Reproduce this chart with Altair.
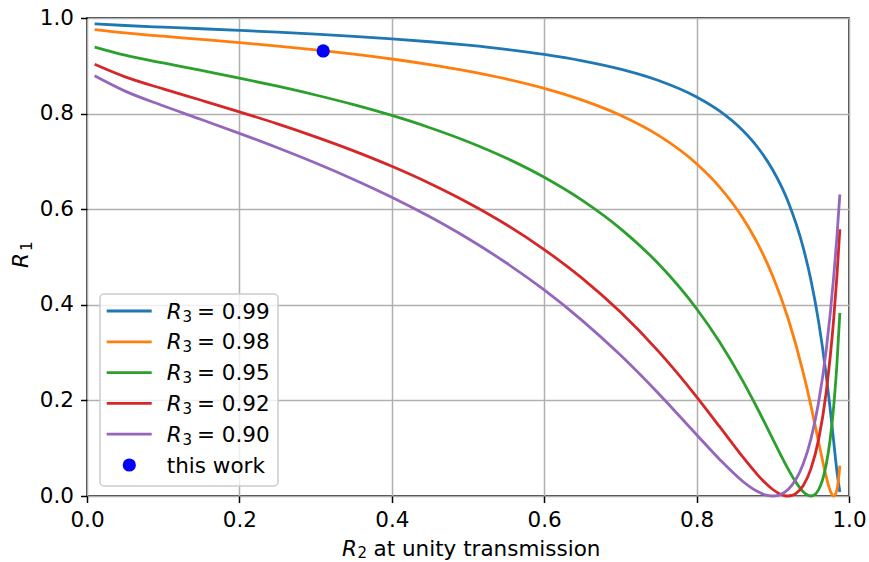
import altair as alt
import pandas as pd

# ---------------- data ----------------
R3_LABELS = ["0.99", "0.98", "0.95", "0.92", "0.90"]
COLORS = ["#1f77b4", "#ff7f0e", "#2ca02c", "#d62728", "#9467bd"]
TICKS = [0.0, 0.2, 0.4, 0.6, 0.8, 1.0]

base_x = [0.01, 0.05, 0.1, 0.15, 0.2, 0.25, 0.3, 0.35, 0.4, 0.45, 0.5,
          0.55, 0.6, 0.65, 0.7, 0.75, 0.8]

r2_099 = base_x + [0.83, 0.86, 0.88, 0.9, 0.92, 0.94, 0.95, 0.96, 0.97,
                   0.975, 0.98, 0.984, 0.988]
r1_099 = [0.9878, 0.9843, 0.9808, 0.9775, 0.9740, 0.9703, 0.9662, 0.9616,
          0.9563, 0.9503, 0.9431, 0.9345, 0.9239, 0.9105, 0.8931, 0.8693,
          0.8349, 0.8056, 0.7656, 0.7296, 0.6819, 0.6160, 0.5191, 0.4520,
          0.3658, 0.2538, 0.1863, 0.1126, 0.0539, 0.0084]

r2_098 = base_x + [0.83, 0.86, 0.88, 0.9, 0.92, 0.94, 0.95, 0.96, 0.965,
                   0.97, 0.974, 0.977, 0.98, 0.983, 0.986, 0.988]
r1_098 = [0.9756, 0.9687, 0.9619, 0.9553, 0.9485, 0.9412, 0.9332, 0.9243,
          0.9142, 0.9025, 0.8889, 0.8726, 0.8529, 0.8282, 0.7966, 0.7544,
          0.6952, 0.6468, 0.5831, 0.5285, 0.4599, 0.3719, 0.2577, 0.1891,
          0.1141, 0.0763, 0.0410, 0.0174, 0.0050, 0.0, 0.0067, 0.0317,
          0.0635]

r2_095 = base_x + [0.83, 0.86, 0.88, 0.9, 0.91, 0.92, 0.93, 0.94, 0.945,
                   0.95, 0.955, 0.96, 0.965, 0.97, 0.975, 0.98, 0.984, 0.988]
r1_095 = [0.9392, 0.9223, 0.9060, 0.8903, 0.8743, 0.8573, 0.8389, 0.8187,
          0.7961, 0.7705, 0.7412, 0.7071, 0.6668, 0.6185, 0.5595, 0.4857,
          0.3917, 0.3227, 0.2423, 0.1825, 0.1191, 0.0872, 0.0567, 0.0295,
          0.0087, 0.0024, 0.0, 0.0029, 0.0129, 0.0325, 0.0649, 0.1150,
          0.1891, 0.2720, 0.3831]

r2_092 = base_x + [0.83, 0.86, 0.88, 0.89, 0.9, 0.91, 0.915, 0.92, 0.925,
                   0.93, 0.94, 0.95, 0.96, 0.97, 0.98, 0.984, 0.988]
r1_092 = [0.9031, 0.8768, 0.8517, 0.8279, 0.8037, 0.7785, 0.7514, 0.7221,
          0.6898, 0.6539, 0.6136, 0.5680, 0.5156, 0.4552, 0.3847, 0.3025,
          0.2076, 0.1455, 0.0828, 0.0443, 0.0275, 0.0136, 0.0038, 0.0010,
          0.0, 0.0011, 0.0048, 0.0219, 0.0567, 0.1174, 0.2161, 0.3720,
          0.4567, 0.5580]

r2_090 = base_x + [0.83, 0.86, 0.87, 0.88, 0.89, 0.895, 0.9, 0.905, 0.91,
                   0.92, 0.93, 0.94, 0.95, 0.96, 0.97, 0.98, 0.984, 0.988]
r1_090 = [0.8792, 0.8470, 0.8163, 0.7876, 0.7587, 0.7286, 0.6967, 0.6623,
          0.6250, 0.5840, 0.5386, 0.4879, 0.4311, 0.3670, 0.2949, 0.2146,
          0.1283, 0.0769, 0.0314, 0.0192, 0.0093, 0.0025, 0.0007, 0.0,
          0.0007, 0.0031, 0.0136, 0.0339, 0.0676, 0.1191, 0.1949, 0.3041,
          0.4599, 0.5394, 0.6310]

this_work_r2 = [0.31]
this_work_r1 = [0.931]

SERIES = [(r2_099, r1_099), (r2_098, r1_098), (r2_095, r1_095),
          (r2_092, r1_092), (r2_090, r1_090)]

# ---------------- chart ----------------
FONT = "DejaVu Sans"
FS = 21.5
SUB = 15

xscale = alt.Scale(domain=[0, 1], nice=False, zero=False)
yscale = alt.Scale(domain=[0, 1], nice=False, zero=False)
xaxis = alt.Axis(values=TICKS, format=".1f", title=None, labelFlush=False,
                 labelOverlap=False)
yaxis = alt.Axis(values=TICKS, format=".1f", title=None, labelOverlap=False)

layers = []
for (xs, ys), col in zip(SERIES, COLORS):
    df = pd.DataFrame({"r2": xs, "r1": ys})
    layers.append(
        alt.Chart(df).mark_line(color=col, strokeWidth=2.8,
                                interpolate="monotone").encode(
            x=alt.X("r2:Q", scale=xscale, axis=xaxis),
            y=alt.Y("r1:Q", scale=yscale, axis=yaxis))
    )

dot_df = pd.DataFrame({"r2": this_work_r2, "r1": this_work_r1})
layers.append(
    alt.Chart(dot_df).mark_circle(color="#0000ff", size=175, opacity=1).encode(
        x=alt.X("r2:Q", scale=xscale, axis=xaxis),
        y=alt.Y("r1:Q", scale=yscale, axis=yaxis))
)

one = pd.DataFrame({"k": [0]})


def txt(s, x, y, size=FS, italic=False, angle=None):
    kw = dict(align="left", baseline="alphabetic", font=FONT, fontSize=size,
              color="black")
    if italic:
        kw["fontStyle"] = "italic"
    if angle is not None:
        kw["angle"] = angle
    return alt.Chart(one).mark_text(**kw).encode(
        x=alt.value(x), y=alt.value(y), text=alt.value(s))


# legend box
layers.append(
    alt.Chart(one).mark_rect(fill="white", fillOpacity=0.8, stroke="#cccccc",
                             strokeWidth=1.5, cornerRadius=4).encode(
        x=alt.value(13), x2=alt.value(191), y=alt.value(276), y2=alt.value(468))
)

ROW0 = 293.0
ROWSTEP = 30.8
for i, (lab, col) in enumerate(zip(R3_LABELS, COLORS)):
    rc = ROW0 + ROWSTEP * i
    layers.append(
        alt.Chart(one).mark_rule(color=col, strokeWidth=2.8).encode(
            x=alt.value(19.7), x2=alt.value(64.7), y=alt.value(rc))
    )
    layers.append(txt("R", 79.8, rc + 7.5, italic=True))
    layers.append(txt("3", 95.5, rc + 10.5, size=SUB))
    layers.append(txt("= " + lab, 110.0, rc + 7.5))

rc = ROW0 + ROWSTEP * 5
layers.append(
    alt.Chart(one).mark_circle(color="#0000ff", size=175, opacity=1).encode(
        x=alt.value(42.3), y=alt.value(rc))
)
layers.append(txt("this work", 79.8, rc + 7.5))

# axis titles
layers.append(txt("R", 255.0, 537.5, italic=True))
layers.append(txt("2", 270.5, 540.3, size=SUB))
layers.append(txt("at unity transmission", 286.5, 537.5))

layers.append(txt("R", -59, 250, italic=True, angle=270))
layers.append(txt("1", -55.5, 233, size=SUB, angle=270))

chart = alt.layer(*layers).properties(
    width=762, height=478,
    autosize=alt.AutoSizeParams(type="none"),
    padding={"left": 87, "top": 18, "right": 20, "bottom": 66},
    background="white",
).configure_view(
    stroke="black", strokeWidth=1.5
).configure_axis(
    domain=False, grid=True, gridColor="#b0b0b0", gridWidth=1.5,
    tickColor="black", tickWidth=1.5, tickSize=6.5,
    labelFont=FONT, labelFontSize=FS, labelColor="black",
).configure_axisX(labelPadding=6.5).configure_axisY(labelPadding=7)

chart.save("out.html", embed_options={"renderer": "svg", "actions": False})
